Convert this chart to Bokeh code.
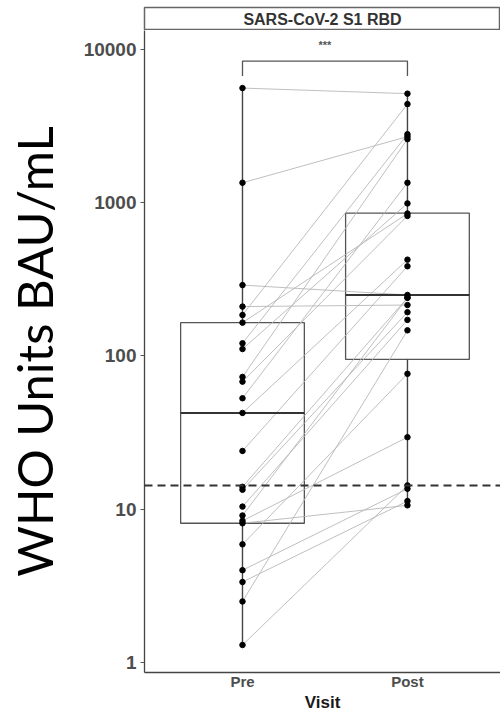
import numpy as np
from bokeh.plotting import figure
from bokeh.layouts import column
from bokeh.models import Range1d, FixedTicker, NumeralTickFormatter, Span
from bokeh.core.properties import value
from bokeh.embed import file_html
from bokeh.resources import INLINE

# ---------------- data ----------------
visits = ["Pre", "Post"]
pre_values = [5600, 1350, 290, 210, 185, 165, 121, 111, 73, 68, 53, 42.5,
              24, 14.0, 13.4, 10.4, 9.1, 8.4, 8.1, 5.9, 4.0, 3.35, 2.5, 1.3]
post_values = [5150, 2700, 250, 215, 4400, 850, 2800, 990, 2600, 820, 1350, 425,
               385, 240, 193, 172, 240, 29.5, 10.6, 76.5, 13.6, 11.3, 147, 14.3]
box_q1 = [8.1, 95]
box_median = [42.5, 250]
box_q3 = [165, 855]
whisker_low = [1.3, 10.6]
whisker_high = [5600, 5150]
cutoff = 14.3
y_ticks = [1, 10, 100, 1000, 10000]
strip_label = "SARS-CoV-2 S1 RBD"
signif_label = "***"
y_label = "WHO Units BAU/mL"
x_label = "Visit"

# ---------------- main panel ----------------
xs = np.arange(1, len(visits) + 1)
half = 0.375
n = len(pre_values)

p = figure(width=500, height=684, y_axis_type="log",
           x_range=Range1d(0.406, 2.564), y_range=Range1d(0.860, 13300),
           output_backend="svg", toolbar_location=None,
           min_border_left=144, min_border_right=0, min_border_top=0, min_border_bottom=42)
p.outline_line_color = None
p.grid.visible = False
p.background_fill_color = "white"

# boxes
p.quad(left=xs - half, right=xs + half, bottom=box_q1, top=box_q3,
       fill_color="white", line_color="#555555", line_width=1.3)
# whiskers
p.segment(x0=xs, y0=whisker_low, x1=xs, y1=box_q1, line_color="#444444", line_width=1.4)
p.segment(x0=xs, y0=box_q3, x1=xs, y1=whisker_high, line_color="#444444", line_width=1.4)
# paired lines
p.segment(x0=[xs[0]] * n, y0=pre_values, x1=[xs[1]] * n, y1=post_values,
          line_color="#b4b4b4", line_width=1, line_alpha=0.85)
# medians
p.segment(x0=xs - half, y0=box_median, x1=xs + half, y1=box_median,
          line_color="#333333", line_width=2)
# points
p.scatter(x=[xs[0]] * n + [xs[1]] * n, y=pre_values + post_values,
          size=5.5, fill_color="black", line_color="black")

# cutoff
p.add_layout(Span(location=cutoff, dimension="width", line_color="#333333",
                  line_width=2, line_dash="8 5"))

# significance bracket
ymax = max(max(pre_values), max(post_values))
b_top = ymax * 1.5
b_leg = ymax * 1.2
p.line(x=[xs[0], xs[0], xs[1], xs[1]], y=[b_leg, b_top, b_top, b_leg],
       line_color="#555555", line_width=1.3)
p.text(x=[xs.mean()], y=[ymax * 1.9], text=[signif_label], text_align="center",
       text_baseline="middle", text_font=value("Liberation Sans"),
       text_font_size="11px", text_font_style="bold", text_color="#555555")

# y axis
ya = p.yaxis[0]
ya.ticker = FixedTicker(ticks=y_ticks)
ya.formatter = NumeralTickFormatter(format="0")
ya.major_label_text_font = "Liberation Sans"
ya.major_label_text_font_size = "19px"
ya.major_label_text_font_style = "bold"
ya.major_label_text_color = "#4d4d4d"
ya.major_tick_out = 4
ya.major_tick_in = 0
ya.major_label_standoff = 4
ya.major_tick_line_color = "#555555"
ya.minor_tick_line_color = None
ya.axis_line_color = "#444444"
ya.axis_line_width = 1.3
ya.axis_label = y_label
ya.axis_label_text_font = "Lato"
ya.axis_label_text_font_size = "49px"
ya.axis_label_text_font_style = "normal"
ya.axis_label_text_color = "black"
ya.axis_label_standoff = 18

# x axis
xa = p.xaxis[0]
xa.ticker = FixedTicker(ticks=list(xs))
xa.major_label_overrides = {int(x): v for x, v in zip(xs, visits)}
xa.major_label_text_font = "Liberation Sans"
xa.major_label_text_font_size = "15px"
xa.major_label_text_font_style = "bold"
xa.major_label_text_color = "#4d4d4d"
xa.major_tick_out = 0
xa.major_tick_in = 0
xa.major_label_standoff = 0
xa.minor_tick_line_color = None
xa.axis_line_color = "#444444"
xa.axis_line_width = 1.3
xa.axis_label = x_label
xa.axis_label_text_font = "Liberation Sans"
xa.axis_label_text_font_size = "17px"
xa.axis_label_text_font_style = "bold"
xa.axis_label_text_color = "#1a1a1a"
xa.axis_label_standoff = 0

# ---------------- strip ----------------
s = figure(width=500, height=30, x_range=Range1d(0, 1), y_range=Range1d(0, 1),
           x_axis_location=None, y_axis_location=None,
           output_backend="svg", toolbar_location=None,
           min_border_left=144, min_border_right=0, min_border_top=7, min_border_bottom=0)
s.grid.visible = False
s.outline_line_color = "#666666"
s.outline_line_width = 1.5
s.text(x=[0.5], y=[0.5], text=[strip_label], text_align="center", text_baseline="middle",
       text_font=value("Liberation Sans"), text_font_size="16px",
       text_font_style="bold", text_color="#333333")

layout = column(s, p, spacing=0)
open("out.html", "w").write(file_html(layout, INLINE))
